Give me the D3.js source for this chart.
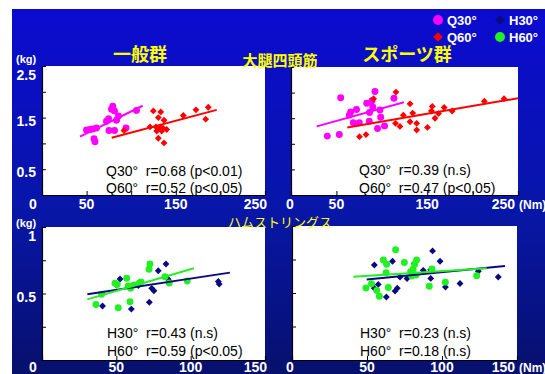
<!DOCTYPE html>
<html>
<head>
<meta charset="utf-8">
<script src="https://cdn.jsdelivr.net/npm/d3@7"></script>
<style>
  html, body { margin: 0; padding: 0; background: #ffffff; }
  svg { display: block; }
  .pre { white-space: pre; }
</style>
</head>
<body>
<svg id="chart" width="545" height="374"></svg>
<script>
// ---- data: torque (Nm) vs. body-mass-normalised value (kg) ----
// general group, quadriceps
const genQ30 = [[49.9,1.26],[53.8,1.27],[57.2,1.28],[61.1,1.30],[58.3,1.09],[59.4,1.03],[72.3,1.43],[74.6,1.48],[77.9,1.66],[79.3,1.72],[81.3,1.63],[75.1,1.25],[81.3,1.25],[83.5,1.45],[85.7,1.53],[94.2,1.30],[105.9,1.64]];
const genQ60 = [[91.9,1.25],[121.1,1.32],[124.8,1.63],[127.8,1.32],[128.6,1.24],[130.4,1.50],[130.4,1.29],[130.4,1.10],[133.1,1.61],[133.1,1.32],[134.2,1.24],[136.0,1.29],[136.8,1.45],[136.8,1.01],[139.8,1.27],[158.4,1.54],[172.6,1.65],[183.5,1.47],[186.4,1.70]];
const genQ30Fit = [[42.6,1.13],[112.9,1.73]];
const genQ60Fit = [[78.1,1.11],[195.9,1.65]];
// sports group, quadriceps
const spoQ30 = [[40.0,1.15],[53.2,1.18],[54.7,1.90],[64.2,1.56],[65.7,1.62],[72.1,1.67],[68.6,1.41],[75.2,1.41],[83.4,1.79],[86.5,1.61],[86.2,1.44],[89.2,1.84],[90.0,1.72],[92.5,2.02],[95.3,1.30],[98.0,1.66],[98.8,1.52],[103.0,1.35],[113.4,1.89]];
const spoQ60 = [[75.4,1.14],[82.6,1.18],[90.9,1.88],[115.1,1.40],[115.6,2.01],[120.0,1.34],[123.7,1.56],[131.1,1.78],[131.1,1.43],[134.0,1.60],[138.4,1.40],[138.4,1.27],[150.3,1.32],[155.6,1.73],[154.7,1.64],[158.6,1.50],[162.5,1.59],[168.7,1.71],[177.5,1.64],[212.9,1.83],[234.6,1.88]];
const spoQ30Fit = [[28.3,1.34],[124.4,1.81]];
const spoQ60Fit = [[62.0,1.32],[250.0,1.89]];
// general group, hamstrings
const genH30 = [[40.7,0.406],[50.2,0.564],[52.5,0.609],[60.1,0.383],[64.8,0.560],[72.2,0.434],[73.8,0.539],[75.3,0.521],[78.2,0.671],[83.4,0.722],[84.9,0.607],[118.6,0.590],[119.2,0.571]];
const genH60 = [[36.3,0.417],[40.1,0.494],[49.1,0.577],[50.6,0.568],[51.3,0.393],[57.0,0.614],[58.0,0.556],[59.6,0.539],[59.2,0.438],[61.9,0.564],[65.4,0.577],[66.6,0.586],[72.0,0.682],[72.6,0.722],[82.7,0.626],[85.6,0.579],[97.7,0.594]];
const genH30Fit = [[30.5,0.494],[126.4,0.657]];
const genH60Fit = [[30.5,0.456],[102.2,0.690]];
// sports group, hamstrings
const spoH30 = [[54.9,0.709],[54.8,0.536],[57.5,0.564],[62.9,0.470],[68.7,0.514],[70.2,0.536],[67.0,0.737],[72.0,0.619],[76.7,0.608],[81.5,0.720],[87.5,0.669],[92.5,0.673],[92.5,0.609],[93.7,0.814],[98.7,0.737],[102.3,0.544],[112.0,0.571],[124.2,0.662],[137.5,0.619]];
const spoH60 = [[49.3,0.538],[53.0,0.569],[56.5,0.519],[58.2,0.476],[60.9,0.747],[63.1,0.714],[62.7,0.652],[64.2,0.541],[69.1,0.823],[74.9,0.727],[79.1,0.658],[80.7,0.677],[79.8,0.626],[82.7,0.635],[83.1,0.747],[81.8,0.714],[91.5,0.551],[93.3,0.680],[102.2,0.581],[123.1,0.628]];
const spoH30Fit = [[49.8,0.601],[142.0,0.702]];
const spoH60Fit = [[40.9,0.622],[129.8,0.684]];

// correlation notes
const genQuadStats = ["Q30°  r=0.68 (p<0.01)", "Q60°  r=0.52 (p<0,05)"];
const spoQuadStats = ["Q30°  r=0.39 (n.s)", "Q60°  r=0.47 (p<0,05)"];
const genHamStats = ["H30°  r=0.43 (n.s)", "H60°  r=0.59 (p<0.05)"];
const spoHamStats = ["H30°  r=0.23 (n.s)", "H60°  r=0.18 (n.s)"];

// axis ticks and labels
const quadXTicks = [0, 50, 100, 150, 200, 250];
const quadXLabels = [0, 50, 150, 250];
const quadYTicks = [0.5, 1, 1.5, 2, 2.5];
const quadYLabels = [0.5, 1.5, 2.5];
const hamXTicks = [0, 50, 100, 150];
const hamXLabels = [0, 50, 100, 150];
const hamYTicks = [0.25, 0.5, 0.75, 1];
const hamYLabels = [0.5, 1];

// titles and legend
const groupTitles = ["一般群", "スポーツ群"];
const muscleTitles = ["大腿四頭筋", "ハムストリングス"];
const legendItems = [
  { key: "Q30°", shape: "circle", color: "#ff00ff" },
  { key: "H30°", shape: "diamond", color: "#0a0a80" },
  { key: "Q60°", shape: "diamond", color: "#ff0000" },
  { key: "H60°", shape: "circle", color: "#22f022" }
];
const colorOf = Object.fromEntries(legendItems.map(d => [d.key, d]));

// ---- layout ----
const svg = d3.select("#chart");
const W = 545, H = 374;
const FONT = "'Liberation Sans', Arial, sans-serif";
const JFONT = "'Noto Sans CJK JP', sans-serif";

const defs = svg.append("defs");
const grad = defs.append("linearGradient").attr("id", "bg").attr("x1", 0).attr("y1", 0).attr("x2", 0).attr("y2", 1);
grad.append("stop").attr("offset", "0%").attr("stop-color", "#0b0bd0");
grad.append("stop").attr("offset", "55%").attr("stop-color", "#0816a8");
grad.append("stop").attr("offset", "100%").attr("stop-color", "#06106c");

svg.append("rect").attr("x", 12).attr("y", 9).attr("width", W - 12).attr("height", H - 9).attr("fill", "url(#bg)");

const panels = [
  { left: 42, right: 265, top: 66, bottom: 195, xMax: 250, yMax: 2.5,
    xTicks: quadXTicks, xLabels: quadXLabels, yTicks: quadYTicks, yLabels: quadYLabels,
    firstDx: -9, lastEnd: 2, labelY: 209,
    series: [{ key: "Q30°", pts: genQ30, fit: genQ30Fit }, { key: "Q60°", pts: genQ60, fit: genQ60Fit }],
    stats: genQuadStats, statX: 106, statY: [176, 192.5] },
  { left: 291, right: 518, top: 67, bottom: 195, xMax: 250, yMax: 2.5,
    xTicks: quadXTicks, xLabels: quadXLabels, yTicks: quadYTicks, yLabels: [],
    firstDx: -1, lastEnd: -3, labelY: 209,
    series: [{ key: "Q30°", pts: spoQ30, fit: spoQ30Fit }, { key: "Q60°", pts: spoQ60, fit: spoQ60Fit }],
    stats: spoQuadStats, statX: 359, statY: [175, 192.5] },
  { left: 42, right: 265, top: 227, bottom: 360, xMax: 150, yMax: 1,
    xTicks: hamXTicks, xLabels: hamXLabels, yTicks: hamYTicks, yLabels: hamYLabels,
    firstDx: -9, lastEnd: 2, labelY: 371.5,
    series: [{ key: "H30°", pts: genH30, fit: genH30Fit }, { key: "H60°", pts: genH60, fit: genH60Fit }],
    stats: genHamStats, statX: 107, statY: [338, 355.5] },
  { left: 292, right: 517, top: 226, bottom: 360, xMax: 150, yMax: 1,
    xTicks: hamXTicks, xLabels: hamXLabels, yTicks: hamYTicks, yLabels: [],
    firstDx: -2, lastEnd: -2, labelY: 371.5,
    series: [{ key: "H30°", pts: spoH30, fit: spoH30Fit }, { key: "H60°", pts: spoH60, fit: spoH60Fit }],
    stats: spoHamStats, statX: 360, statY: [338, 355.5] }
];

function marker(sel, shape, color, size) {
  if (shape === "circle") {
    sel.append("circle").attr("r", Math.sqrt(size / Math.PI)).attr("fill", color);
  } else {
    sel.append("path").attr("d", d3.symbol(d3.symbolDiamond2, size)()).attr("fill", color);
  }
}

panels.forEach(p => {
  const x = d3.scaleLinear().domain([0, p.xMax]).range([p.left, p.right]);
  const y = d3.scaleLinear().domain([0, p.yMax]).range([p.bottom, p.top]);
  const g = svg.append("g");

  g.append("rect").attr("x", p.left).attr("y", p.top)
    .attr("width", p.right - p.left).attr("height", p.bottom - p.top).attr("fill", "#ffffff");

  // inward ticks on the left and bottom edges
  g.append("g").attr("transform", `translate(${p.left},0)`)
    .call(d3.axisLeft(y).tickValues(p.yTicks).tickSize(-4).tickFormat(""))
    .call(a => a.select(".domain").attr("stroke", "#000").attr("stroke-width", 1.2))
    .call(a => a.selectAll(".tick line").attr("stroke", "#000"));
  g.append("g").attr("transform", `translate(0,${p.bottom})`)
    .call(d3.axisBottom(x).tickValues(p.xTicks).tickSize(-4).tickFormat(""))
    .call(a => a.select(".domain").attr("stroke", "#000").attr("stroke-width", 1.2))
    .call(a => a.selectAll(".tick line").attr("stroke", "#000"));

  // x tick labels
  p.xLabels.forEach((v, i) => {
    const last = i === p.xLabels.length - 1;
    const first = i === 0;
    const t = g.append("text").attr("y", p.labelY).text(v)
      .attr("fill", "#fff").attr("font-family", FONT).attr("font-weight", "bold").attr("font-size", 14);
    if (last) t.attr("x", x(v) + p.lastEnd).attr("text-anchor", "end");
    else if (first) t.attr("x", x(v) + p.firstDx).attr("text-anchor", "middle");
    else t.attr("x", x(v)).attr("text-anchor", "middle");
  });

  // y tick labels, kept inside the plot's top edge
  p.yLabels.forEach(v => {
    g.append("text").attr("x", 36).attr("y", Math.max(y(v) + 8, p.top + 13.5))
      .attr("text-anchor", "end").text(v)
      .attr("fill", "#fff").attr("font-family", FONT).attr("font-weight", "bold").attr("font-size", 14);
  });

  const line = d3.line().x(d => x(d[0])).y(d => y(d[1]));
  p.series.forEach(s => {
    const c = colorOf[s.key];
    g.append("g").selectAll("g").data(s.pts).join("g")
      .attr("transform", d => `translate(${x(d[0])},${y(d[1])})`)
      .each(function () { marker(d3.select(this), c.shape, c.color, c.shape === "circle" ? 38 : 30); });
  });
  p.series.forEach(s => {
    const c = colorOf[s.key];
    g.append("path").datum(s.fit).attr("d", line)
      .attr("fill", "none").attr("stroke", c.color).attr("stroke-width", 2);
  });

  p.stats.forEach((t, i) => {
    g.append("text").attr("class", "pre").attr("x", p.statX).attr("y", p.statY[i]).text(t)
      .attr("fill", "#000").attr("font-family", FONT).attr("font-size", 14);
  });
});

// units
[[16, 63], [16, 227]].forEach(([ux, uy]) => {
  svg.append("text").attr("x", ux).attr("y", uy).text("(kg)")
    .attr("fill", "#fff").attr("font-family", FONT).attr("font-weight", "bold").attr("font-size", 11);
});
[[519, 209], [519, 371.5]].forEach(([ux, uy]) => {
  svg.append("text").attr("x", ux).attr("y", uy).text("(Nm)")
    .attr("fill", "#fff").attr("font-family", FONT).attr("font-weight", "bold").attr("font-size", 12);
});

// titles
[[140, 61], [407, 61]].forEach(([tx, ty], i) => {
  svg.append("text").attr("x", tx).attr("y", ty).attr("text-anchor", "middle").text(groupTitles[i])
    .attr("fill", "#ffff00").attr("font-family", JFONT).attr("font-weight", "bold").attr("font-size", 18);
});
svg.append("text").attr("x", 280).attr("y", 66).attr("text-anchor", "middle").text(muscleTitles[0])
  .attr("fill", "#ffff00").attr("font-family", JFONT).attr("font-weight", "bold").attr("font-size", 15);
svg.append("text").attr("x", 280).attr("y", 226.5).attr("text-anchor", "middle").text(muscleTitles[1])
  .attr("fill", "#ffff00").attr("font-family", JFONT).attr("font-size", 13);

// legend
const legendPos = [[438, 20], [500, 20], [438, 37], [500, 37]];
legendItems.forEach((d, i) => {
  const [lx, ly] = legendPos[i];
  const lg = svg.append("g").attr("transform", `translate(${lx},${ly})`);
  marker(lg, d.shape, d.color, d.shape === "circle" ? 78 : 60);
  lg.append("text").attr("x", 9).attr("y", 5).text(d.key)
    .attr("fill", "#fff").attr("font-family", FONT).attr("font-weight", "bold").attr("font-size", 13);
});
</script>
</body>
</html>
